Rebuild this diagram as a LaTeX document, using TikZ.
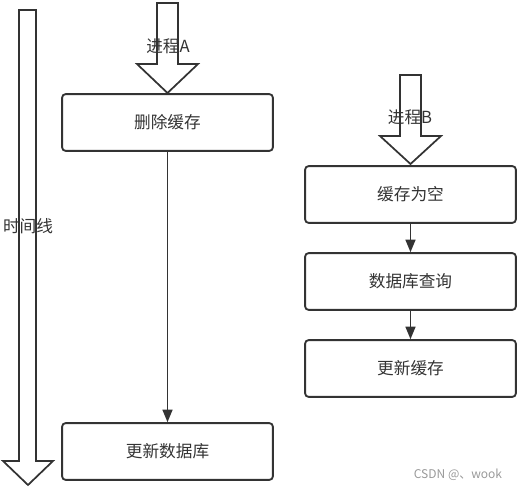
\documentclass[tikz,border=0pt]{standalone}
\usepackage{fontspec}
\newfontfamily\cjk{Noto Sans CJK SC}
\usetikzlibrary{arrows.meta}
\definecolor{linea}{HTML}{333333}
\definecolor{marca}{HTML}{999999}
\tikzset{
  caja/.style={draw=linea, line width=1.4pt, rounded corners=2.5pt,
    minimum width=158pt, minimum height=42.5pt, inner sep=0pt,
    font=\cjk\fontsize{12.5}{15}\selectfont, text=linea},
  bloque/.style={draw=linea, line width=1.3pt, line join=miter},
  etiqueta/.style={inner sep=0pt, font=\cjk\fontsize{12.5}{15}\selectfont, text=linea},
  flecha/.style={draw=linea, line width=1.3pt, -{Triangle[length=9.5pt,width=7.5pt]}}
}
\begin{document}
\begin{tikzpicture}[x=0.75pt,y=-0.75pt]
        \useasboundingbox (0,0) rectangle (519,491);

        % Linea de tiempo
        \draw[bloque] (19,10) -- (36,10) -- (36,461) -- (53,461) -- (28,485) -- (3,461) -- (19,461) -- cycle;
        \node[etiqueta] (tiempo) at (28,226) {时间线};

        % Proceso A
        \draw[bloque] (157,3) -- (178,3) -- (178,64) -- (198,64) -- (167.5,93) -- (137,64) -- (157,64) -- cycle;
        \node[etiqueta] (procA) at (168,46) {进程A};
        \node[caja] (borrar) at (167.5,122.5) {删除缓存};
        \node[caja] (actbd) at (167.5,451.5) {更新数据库};
        \draw[flecha] (borrar) -- (actbd);

        % Proceso B
        \draw[bloque] (400,75) -- (421,75) -- (421,136) -- (441,136) -- (410.5,164) -- (380,136) -- (400,136) -- cycle;
        \node[etiqueta] (procB) at (410,117) {进程B};
        \node[caja] (vacio) at (410.5,194.5) {缓存为空};
        \node[caja] (consulta) at (410.5,281.5) {数据库查询};
        \node[caja] (actcache) at (410.5,368.5) {更新缓存};
        \draw[flecha] (vacio) -- (consulta);
        \draw[flecha] (consulta) -- (actcache);

        % Marca
        \node[inner sep=0pt, text=marca, font=\cjk\fontsize{9}{10}\selectfont] (marca) at (458,475) {CSDN @、wook};
    \end{tikzpicture}
\end{document}
